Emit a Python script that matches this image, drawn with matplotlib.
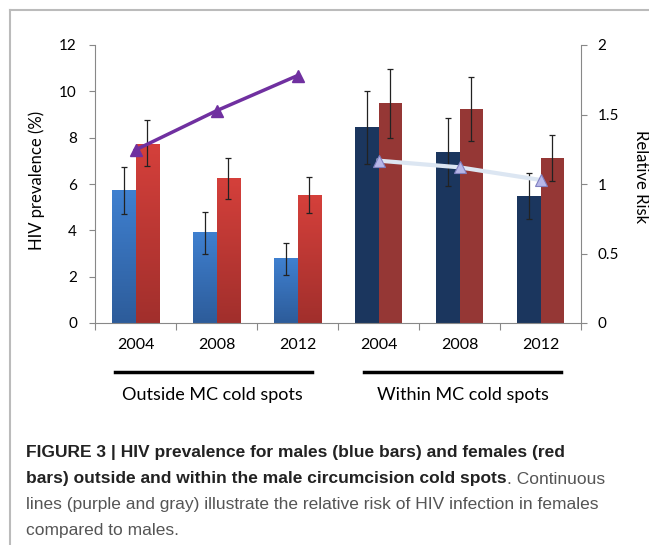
import numpy as np
import matplotlib
matplotlib.use("Agg")
import matplotlib.pyplot as plt
from matplotlib.colors import LinearSegmentedColormap
from matplotlib.lines import Line2D

years = ["2004", "2008", "2012", "2004", "2008", "2012"]
groups = ["Outside MC cold spots", "Within MC cold spots"]
male = [5.74, 3.93, 2.80, 8.46, 7.38, 5.48]
male_lo = [4.70, 3.00, 2.09, 6.86, 5.90, 4.50]
male_hi = [6.73, 4.78, 3.47, 10.01, 8.83, 6.49]
female = [7.74, 6.26, 5.52, 9.50, 9.24, 7.12]
female_lo = [6.76, 5.37, 4.75, 7.97, 7.84, 6.14]
female_hi = [8.76, 7.14, 6.29, 10.98, 10.62, 8.10]
rr_outside = [1.245, 1.527, 1.78]
rr_within = [1.168, 1.12, 1.029]

FONT = ["Lato", "DejaVu Sans"]
CAP = ["Liberation Sans", "DejaVu Sans"]

fig = plt.figure(figsize=(6.49, 5.45), dpi=100)
W, H = 649, 545
ax = fig.add_axes([95 / W, 1 - 323 / H, (581 - 95) / W, (323 - 45) / H])

x = np.arange(len(years))
bw = 0.285
male_cols = ["grad_b", "grad_b", "grad_b", "#1B365E", "#1B365E", "#1B365E"]
fem_cols = ["grad_r", "grad_r", "grad_r", "#953735", "#953735", "#953735"]

cm_b = LinearSegmentedColormap.from_list("b", ["#2D5C9A", "#3F80D0"])
cm_r = LinearSegmentedColormap.from_list("r", ["#A12F2C", "#D5403B"])
grad = np.linspace(0, 1, 256).reshape(-1, 1)

def draw_bars(xs, vals, cols):
    bars = ax.bar(xs, vals, bw, color=[c if c.startswith("#") else "none" for c in cols],
                  edgecolor="none", zorder=2)
    for b, c in zip(bars, cols):
        if not c.startswith("#"):
            cmap = cm_b if c == "grad_b" else cm_r
            x0, y0 = b.get_x(), b.get_y()
            im = ax.imshow(grad, cmap=cmap, origin="lower", aspect="auto",
                           extent=(x0, x0 + b.get_width(), y0, y0 + b.get_height()),
                           zorder=2)
            im.set_clip_path(b)
    return bars

draw_bars(x - bw / 2, male, male_cols)
draw_bars(x + bw / 2, female, fem_cols)

m = np.array(male); f = np.array(female)
ax.errorbar(x - bw / 2, m, yerr=[m - np.array(male_lo), np.array(male_hi) - m],
            fmt="none", ecolor="#222222", elinewidth=0.9, capsize=2, capthick=0.9, zorder=3)
ax.errorbar(x + bw / 2, f, yerr=[f - np.array(female_lo), np.array(female_hi) - f],
            fmt="none", ecolor="#222222", elinewidth=0.9, capsize=2, capthick=0.9, zorder=3)

ax.set_xlim(-0.5, 5.5)
ax.set_ylim(0, 12)
ax.set_yticks(range(0, 13, 2))
ax.set_xticks(np.arange(-0.5, 6, 1))
ax.set_xticklabels([])
ax.tick_params(axis="x", length=5, color="#888888", width=0.8)
ax.tick_params(axis="y", length=4, color="#888888", width=0.8, labelsize=11, pad=9)
for lbl in ax.get_yticklabels():
    lbl.set_family(FONT)
for i, yl in enumerate(years):
    ax.text(x[i], -0.95, yl, ha="center", va="center", fontsize=11.5, family=FONT,
            transform=ax.transData, clip_on=False)
for s in ["top", "right"]:
    ax.spines[s].set_visible(False)
for s in ["left", "bottom"]:
    ax.spines[s].set_color("#888888")
    ax.spines[s].set_linewidth(0.8)
ax.set_ylabel("HIV prevalence (%)", fontsize=12, family=FONT, va="center")
ax.yaxis.set_label_coords((37 - 95) / (581 - 95), (323 - 180) / (323 - 45))

ax2 = ax.twinx()
ax2.set_ylim(0, 2)
ax2.set_yticks([0, 0.5, 1, 1.5, 2])
ax2.set_yticklabels(["0", "0.5", "1", "1.5", "2"])
ax2.tick_params(axis="y", length=4, color="#888888", width=0.8, labelsize=11, pad=8)
for lbl in ax2.get_yticklabels():
    lbl.set_family(FONT)
for s in ["top", "left", "bottom"]:
    ax2.spines[s].set_visible(False)
ax2.spines["right"].set_color("#888888")
ax2.spines["right"].set_linewidth(0.8)
ax2.set_ylabel("Relative Risk", fontsize=12, family=FONT, rotation=270, va="center")
ax2.yaxis.set_label_coords((641 - 95) / (581 - 95), (323 - 177) / (323 - 45))

ax2.plot(x[:3], rr_outside, color="#7030A0", lw=2.5, marker="^", ms=8,
         mfc="#7030A0", mec="#7030A0", zorder=5)
ax2.plot(x[3:], rr_within, color="#DCE6F2", lw=3, marker="^", ms=8,
         mfc="#B7B7E8", mec="#8080C0", mew=0.8, zorder=5)

# group underlines and labels
fig.add_artist(Line2D([115 / W, 312 / W], [1 - 372 / H] * 2, color="black", lw=2.5))
fig.add_artist(Line2D([364 / W, 561 / W], [1 - 372 / H] * 2, color="black", lw=2.5))
fig.text(212 / W, 1 - 395 / H, groups[0], ha="center", va="center", fontsize=13, family=FONT)
fig.text(463 / W, 1 - 395 / H, groups[1], ha="center", va="center", fontsize=13, family=FONT)

# frame lines
fig.add_artist(Line2D([10 / W, 1], [1 - 10 / H] * 2, color="#BBBBBB", lw=1.5))
fig.add_artist(Line2D([10 / W, 10 / W], [1 - 10 / H, 0], color="#BBBBBB", lw=1.5))

# caption
cap_fs = 12.5
fig.text(26 / W, 1 - 453 / H, "FIGURE 3 | HIV prevalence for males (blue bars) and females (red",
         fontsize=cap_fs, fontweight="bold", family=CAP, color="#222222", va="center")
t1 = fig.text(26 / W, 1 - 479 / H, "bars) outside and within the male circumcision cold spots",
              fontsize=cap_fs, fontweight="bold", family=CAP, color="#222222", va="center")
fig.canvas.draw()
bb = t1.get_window_extent()
fig.text(bb.x1 / W, 1 - 479 / H, ". Continuous", fontsize=cap_fs, family=CAP,
         color="#555555", va="center")
fig.text(26 / W, 1 - 505 / H, "lines (purple and gray) illustrate the relative risk of HIV infection in females",
         fontsize=cap_fs, family=CAP, color="#555555", va="center")
fig.text(26 / W, 1 - 530 / H, "compared to males.", fontsize=cap_fs, family=CAP,
         color="#555555", va="center")

fig.savefig("out.png", dpi=100)
